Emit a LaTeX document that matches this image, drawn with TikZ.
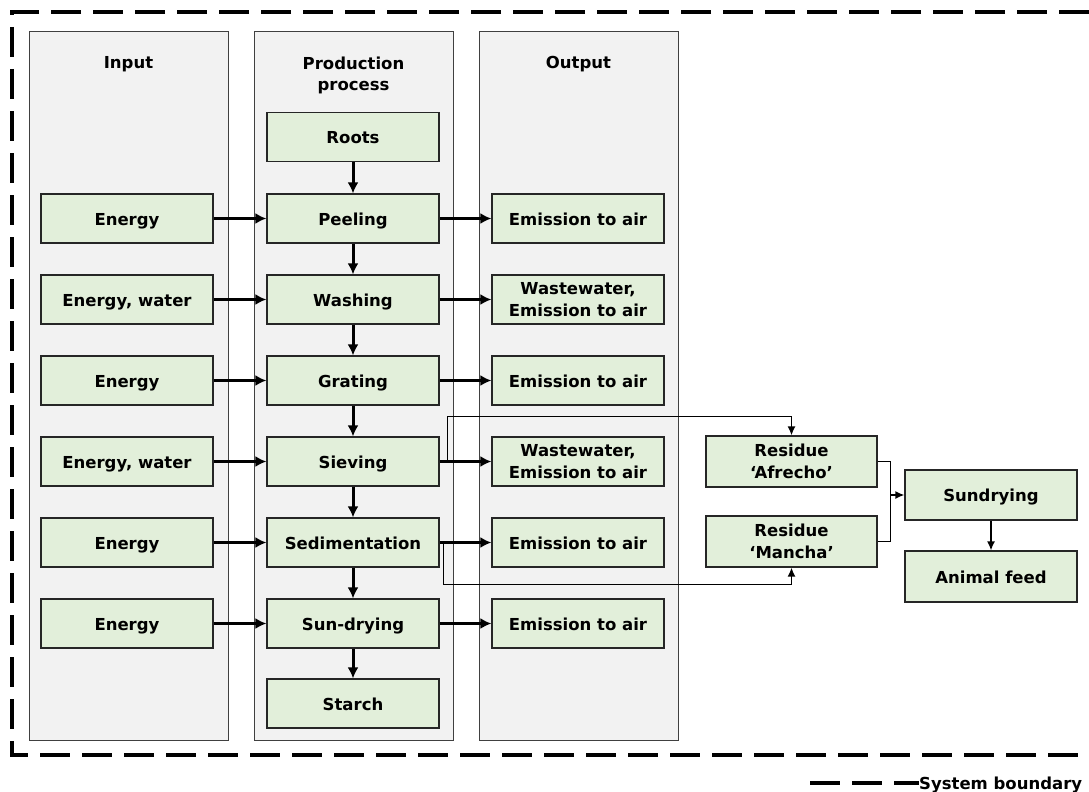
\documentclass[tikz,border=0pt]{standalone}
\usepackage{fontspec}
\setmainfont{DejaVu Sans}
\usetikzlibrary{arrows.meta}

\definecolor{panelgray}{HTML}{F2F2F2}
\definecolor{boxgreen}{HTML}{E2EFDA}

\begin{document}
\begin{tikzpicture}[x=1pt,y=-1pt]
	\tikzstyle{panel} = [rectangle, draw=black!75, fill=panelgray, line width=1pt, minimum width=199pt, minimum height=708pt, inner sep=0pt]
	\tikzstyle{block} = [rectangle, draw=black!85, fill=boxgreen, line width=1.2pt, text centered, align=center, minimum width=172pt, minimum height=49pt, inner sep=0pt, font=\fontsize{16.5}{21.5}\selectfont\bfseries]
	\tikzstyle{oneline} = [block, text height=16.5pt, text depth=3pt]
	\tikzstyle{head} = [anchor=north, align=center, inner sep=0pt, font=\fontsize{16.5}{21.5}\selectfont\bfseries]
	\tikzstyle{line} = [draw, -{Latex[length=11pt,width=11pt]}, line width=3pt]
	\tikzstyle{thinline} = [draw, -{Latex[length=9pt,width=8pt]}, line width=1.5pt]
	\tikzstyle{boundary} = [draw, line width=3.5pt, dash pattern=on 30pt off 12pt]

	\useasboundingbox (0,0) rectangle (1089,792);

	% system boundary
	\draw [boundary] (1089,12) -- (12,12) -- (12,755) -- (1089,755);

	% columns
	\node [panel] (InputPanel) at (128.5,386) {};
	\node [panel, right of=InputPanel, node distance=225pt] (ProcessPanel) {};
	\node [panel, right of=ProcessPanel, node distance=225pt] (OutputPanel) {};
	\node [head] (InputHead) at ([yshift=-25pt]InputPanel.north) {Input};
	\node [head] (ProcessHead) at ([yshift=-25pt]ProcessPanel.north) {Production\\process};
	\node [head] (OutputHead) at ([yshift=-25pt]OutputPanel.north) {Output};

	% production process
	\node [oneline] (Roots) at (353,137) {Roots};
	\node [oneline, below of=Roots, node distance=81.5pt] (Peeling) {Peeling};
	\node [oneline, below of=Peeling, node distance=81pt] (Washing) {Washing};
	\node [oneline, below of=Washing, node distance=81pt] (Grating) {Grating};
	\node [oneline, below of=Grating, node distance=81pt] (Sieving) {Sieving};
	\node [oneline, below of=Sieving, node distance=81pt] (Sedimentation) {Sedimentation};
	\node [oneline, below of=Sedimentation, node distance=81pt] (SunDrying) {Sun-drying};
	\node [oneline, below of=SunDrying, node distance=80pt] (Starch) {Starch};
	\path [line] (Roots) -- (Peeling);
	\path [line] (Peeling) -- (Washing);
	\path [line] (Washing) -- (Grating);
	\path [line] (Grating) -- (Sieving);
	\path [line] (Sieving) -- (Sedimentation);
	\path [line] (Sedimentation) -- (SunDrying);
	\path [line] (SunDrying) -- (Starch);

	% inputs and outputs
	\foreach \step/\inp/\outp/\outstyle in {Peeling/Energy/Emission to air/oneline,
		Washing/{Energy, water}/{Wastewater,\\Emission to air}/block,
		Grating/Energy/Emission to air/oneline,
		Sieving/{Energy, water}/{Wastewater,\\Emission to air}/block,
		Sedimentation/Energy/Emission to air/oneline,
		SunDrying/Energy/Emission to air/oneline}
	{
		\node [oneline, left of=\step, node distance=226pt] (In\step) {\inp};
		\node [\outstyle, right of=\step, node distance=225pt] (Out\step) {\outp};
		\path [line] (In\step) -- (\step);
		\path [line] (\step) -- (Out\step);
	}

	% residues
	\node [block, minimum width=171pt, minimum height=51pt, right of=OutSieving, node distance=213.5pt] (Afrecho) {Residue\\‘Afrecho’};
	\node [block, minimum width=171pt, minimum height=51pt, below of=Afrecho, node distance=80pt] (Mancha) {Residue\\‘Mancha’};
	\node [oneline, minimum height=50pt] (Sundrying) at (991,495) {Sundrying};
	\node [oneline, minimum height=51pt, below of=Sundrying, node distance=81.5pt] (AnimalFeed) {Animal feed};
	\coordinate (Join) at ([xshift=-14pt]Sundrying.west);
	\path [thinline] ([xshift=8pt]Sieving.east) |- ([yshift=19pt]Afrecho.north) -- (Afrecho.north);
	\path [thinline] ([xshift=4pt]Sedimentation.east) |- ([yshift=-17pt]Mancha.south) -- (Mancha.south);
	\draw [line width=1.5pt] (Afrecho.east) -| (Join) |- (Mancha.east);
	\path [thinline] (Join) -- (Sundrying.west);
	\path [thinline] (Sundrying) -- (AnimalFeed);

	% legend
	\coordinate (LegendStart) at (810,783);
	\node [anchor=west, inner sep=0pt, text height=12pt, text depth=0pt, font=\fontsize{16.5}{20}\selectfont\bfseries] (Legend) at (919,783) {System boundary};
	\draw [boundary] (LegendStart) -- (Legend.west);
\end{tikzpicture}
\end{document}
